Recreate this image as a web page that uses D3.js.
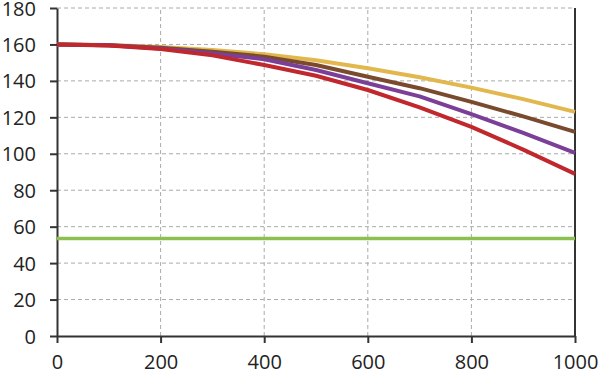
<!DOCTYPE html>
<html>
<head>
<meta charset="utf-8">
<script src="https://cdn.jsdelivr.net/npm/d3@7"></script>
<style>
  body { margin: 0; background: #fff; }
  text { font-family: "Open Sans", sans-serif; }
</style>
</head>
<body>
<div id="chart"></div>
<script>
const xValues = [0, 100, 200, 300, 400, 500, 600, 700, 800, 900, 1000];
const yellowSeries = [160, 159.7, 158.6, 156.9, 154.6, 151.3, 146.9, 142, 136.3, 130, 123];
const brownSeries = [160, 159.6, 158.2, 156, 153.3, 148.7, 142.3, 136, 128.5, 120.5, 112];
const purpleSeries = [160, 159.5, 157.8, 155, 151.9, 146, 138.7, 131.5, 121.8, 111.5, 100.5];
const redSeries = [160, 159.4, 157.5, 154, 148.7, 142.8, 135, 125.5, 114.8, 102.3, 89];
const greenSeries = [53.5, 53.5, 53.5, 53.5, 53.5, 53.5, 53.5, 53.5, 53.5, 53.5, 53.5];
const xTicks = [0, 200, 400, 600, 800, 1000];
const yTicks = [0, 20, 40, 60, 80, 100, 120, 140, 160, 180];

const width = 600, height = 374,
    margin = ({ top: 8, right: 25, bottom: 38, left: 57 });

const svg = d3.select("#chart")
  .append("svg")
  .attr("width", width)
  .attr("height", height);

const x = d3.scaleLinear()
  .domain([0, 1000])
  .range([margin.left, width - margin.right]);

const y = d3.scaleLinear()
  .domain([0, 180])
  .range([height - margin.bottom, margin.top]);

// dashed grid
svg.append("g")
  .selectAll("line")
  .data(xTicks.slice(1, -1))
  .join("line")
  .attr("x1", d => x(d)).attr("x2", d => x(d))
  .attr("y1", y(0)).attr("y2", y(180))
  .attr("stroke", "#aaa")
  .attr("stroke-dasharray", "4,3");

svg.append("g")
  .selectAll("line")
  .data(yTicks.slice(1))
  .join("line")
  .attr("x1", x(0)).attr("x2", x(1000))
  .attr("y1", d => y(d)).attr("y2", d => y(d))
  .attr("stroke", "#aaa")
  .attr("stroke-dasharray", "4,3");

// axes
const yAxis = svg.append("g")
  .attr("transform", `translate(${margin.left},0)`)
  .call(d3.axisLeft(y).tickValues(yTicks).tickFormat(d3.format("d"))
    .tickSize(7).tickSizeOuter(0).tickPadding(14));

const xAxis = svg.append("g")
  .attr("transform", `translate(0,${height - margin.bottom})`)
  .call(d3.axisBottom(x).tickValues(xTicks).tickFormat(d3.format("d"))
    .tickSize(7).tickSizeOuter(0).tickPadding(8));

[yAxis, xAxis].forEach(g => {
  g.select(".domain").attr("stroke", "#333").attr("stroke-width", 2);
  g.selectAll(".tick line").attr("stroke", "#333").attr("stroke-width", 2);
  g.selectAll(".tick text")
    .attr("fill", "#222")
    .style("font-size", "20px")
    .style("font-family", "'Open Sans', sans-serif");
});
yAxis.selectAll(".tick text").attr("dy", "0.35em");
xAxis.selectAll(".tick text").attr("dy", "0.9em");

// right border
svg.append("line")
  .attr("x1", x(1000)).attr("x2", x(1000))
  .attr("y1", y(180)).attr("y2", y(0))
  .attr("stroke", "#333")
  .attr("stroke-width", 2);

const line = d3.line()
  .x((d, i) => x(xValues[i]))
  .y(d => y(d));

const series = [
  { values: greenSeries, color: "#8cc152", w: 3.5 },
  { values: yellowSeries, color: "#e2b84e", w: 4 },
  { values: brownSeries, color: "#7a4a2e", w: 4 },
  { values: purpleSeries, color: "#7b3f98", w: 4 },
  { values: redSeries, color: "#c0282e", w: 4 }
];

series.forEach(s => {
  svg.append("path")
    .datum(s.values)
    .attr("d", line)
    .attr("fill", "none")
    .attr("stroke", s.color)
    .attr("stroke-width", s.w)
    .attr("stroke-linejoin", "round");
});
</script>
</body>
</html>
